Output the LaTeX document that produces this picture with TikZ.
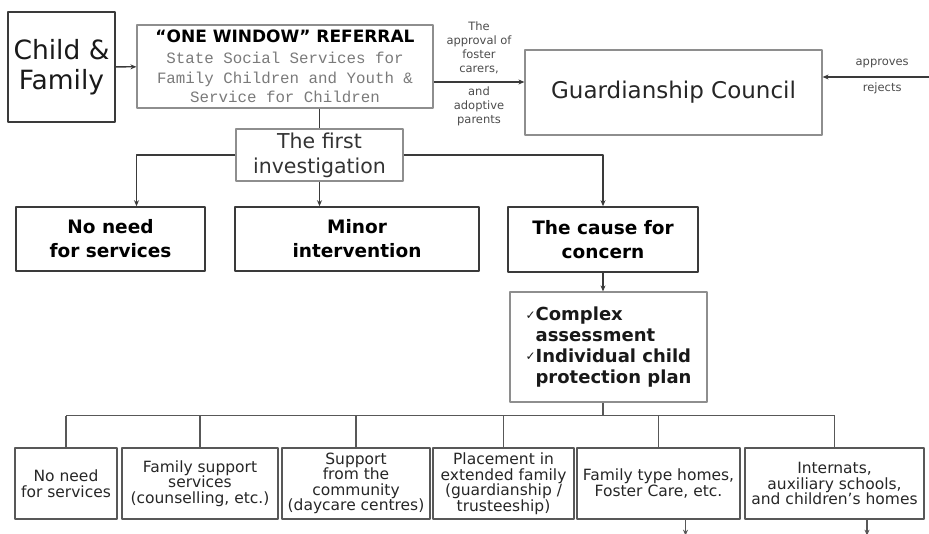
\documentclass[tikz,border=0pt]{standalone}
\usepackage{fontspec}
\setmainfont{DejaVu Sans}
\newfontfamily\courierfont{Liberation Mono}
\usepackage{tikz}
\usetikzlibrary{arrows.meta,calc}
\definecolor{boxgray}{HTML}{8E8E8E}
\definecolor{linedark}{HTML}{3A3A3A}
\definecolor{textgray}{HTML}{7A7A7A}
\newcommand{\fsz}[2]{\fontsize{#1}{#2}\selectfont}
\newcommand{\chk}{{\mdseries\fsz{12}{12}\raisebox{1.5pt}{✓}}}
\newcommand{\mono}[1]{{\courierfont\fsz{15.8}{19.5}\color{textgray}#1}}
\tikzset{
  every picture/.style={line join=round, >={Stealth[length=6pt,width=5pt]}},
  lightbox/.style={draw=boxgray, line width=1.2pt, inner sep=0pt, align=center},
  darkbox/.style={draw=linedark, line width=1.6pt, inner sep=0pt, align=center},
  optbox/.style={draw=linedark!85, line width=1.3pt, inner sep=0pt, align=center,
    minimum height=71pt, font=\fsz{15.5}{15.5}, text=black!85},
  conn/.style={draw=linedark, line width=1.8pt},
  tick/.style={draw=linedark!85, line width=1.3pt},
  note/.style={inner sep=0pt, align=center, font=\fsz{11.5}{14}, text=black!70},
}
\begin{document}
\begin{tikzpicture}[x=1pt,y=-1pt]
\useasboundingbox (0,0) rectangle (929,534);
\node[darkbox, minimum width=107pt, minimum height=110pt, font=\fsz{26.5}{30}, text=black!90] (cf) at (61.5,67) {Child \&\\Family};
\node[lightbox, minimum width=296pt, minimum height=83pt, font=\fsz{15.8}{19.5}] (owr) at (285,66.5)
  {{\fsz{17}{19.5}\bfseries “ONE WINDOW” REFERRAL}\\[1.5pt]\mono{State Social Services for}\\\mono{Family Children and Youth \&}\\\mono{Service for Children}};
\node[lightbox, minimum width=297pt, minimum height=85pt, font=\fsz{23}{26}, text=black!85] (gc) at (673.5,92.5) {Guardianship Council};
\node[lightbox, minimum width=167pt, minimum height=52pt, font=\fsz{20.5}{25}, text=black!80] (fi) at (319.5,155) {The first\\investigation};
\node[darkbox, minimum width=189pt, minimum height=64pt, font=\fsz{18.5}{24}\bfseries] (nn) at (110.5,239) {No need\\for services};
\node[darkbox, minimum width=244pt, minimum height=64pt, font=\fsz{18.5}{24}\bfseries] (mi) at (357,239) {Minor\\intervention};
\node[darkbox, minimum width=190pt, minimum height=65pt, font=\fsz{18.5}{24}\bfseries] (cc) at (603,239.5) {The cause for\\concern};
\node[lightbox, minimum width=197pt, minimum height=110pt, align=left, font=\fsz{18}{20.7}\bfseries, text=black!90] (cx) at (608.5,347)
  {\chk Complex\\\hphantom{\chk}assessment\\\chk Individual child\\\hphantom{\chk}protection plan};
\node[optbox, minimum width=102pt] (b1) at (66,483.5) {No need\\for services};
\node[optbox, minimum width=156pt] (b2) at (200,483.5) {Family support\\services\\(counselling, etc.)};
\node[optbox, minimum width=148pt] (b3) at (356,483.5) {Support\\from the\\community\\(daycare centres)};
\node[optbox, minimum width=141pt] (b4) at (503.5,483.5) {Placement in\\extended family\\(guardianship /\\trusteeship)};
\node[optbox, minimum width=163pt] (b5) at (658.5,483.5) {Family type homes,\\Foster Care, etc.};
\node[optbox, minimum width=179pt] (b6) at (834.5,483.5) {Internats,\\auxiliary schools,\\and children’s homes};
\coordinate (ext) at (929,77);
\coordinate (bus) at ($(cc.south |- cx.south)+(0,13)$);
\coordinate (out5) at ($(b5.south)+(27,16)$);
\coordinate (out6) at ($(b6.south)+(32.5,16)$);
\draw[conn,->,line width=1.3pt] (cf) -- (owr);
\draw[conn,->,line width=1.3pt] (owr.east |- 0,82) -- node[note,above=8pt]{The\\approval of\\foster\\carers,} node[note,below=4.5pt]{and\\adoptive\\parents} (gc.west |- 0,82);
\draw[conn,->,line width=1.3pt] (ext) -- node[note,pos=0.44,above=8pt]{approves} node[note,pos=0.44,below=5pt]{rejects} (gc.east |- ext);
\draw[conn] (owr.south -| fi.north) -- (fi.north);
\draw[conn,->] (fi.west) -| ([xshift=26pt]nn.north);
\draw[conn,->] (fi.south) -- (fi.south |- mi.north);
\draw[conn,->] (fi.east) -| (cc.north);
\draw[conn,->,line width=1.3pt] (cc.south) -- (cc.south |- cx.north);
\draw[tick] (cc.south |- cx.south) -- (bus);
\draw[tick] (b1.north |- bus) -- (b6.north |- bus);
\foreach \b in {b1,b2,b3,b4,b5,b6}
  \draw[tick] (\b.north) -- (\b.north |- bus);
\draw[tick,->] (b5.south -| out5) -- (out5);
\draw[tick,->] (b6.south -| out6) -- (out6);
\end{tikzpicture}
\end{document}
